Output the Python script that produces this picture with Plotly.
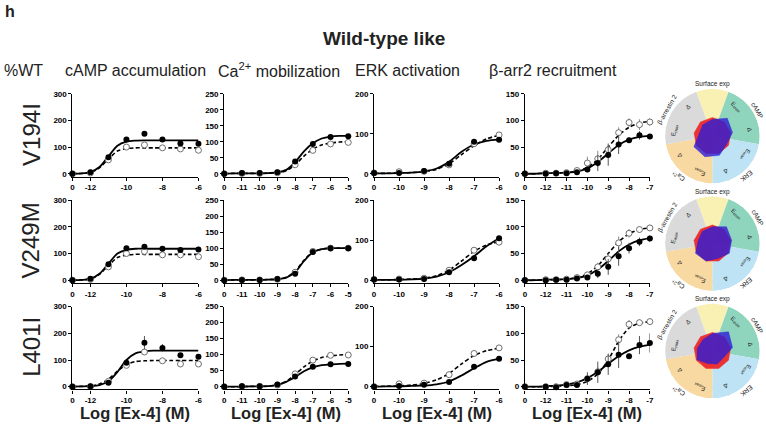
import math
import plotly.graph_objects as go

W, H = 766, 425
FONT = "Liberation Sans, Arial, sans-serif"

# ── x positions (log M). The vehicle "0" dose is drawn one decade left of the first dose
CAMP_X = [-13, -12, -11, -10, -9, -8, -7, -6]
CA_X = [-12, -11, -10, -9, -8, -7, -6, -5]
ERK_X = [-11, -10, -9, -8, -7, -6]
ARR_X = [-13, -12, -11.5, -11, -10.5, -10, -9.5, -9, -8.5, -8, -7.5, -7]

CAMP_FIT_X = [-13, -12.5, -12, -11.5, -11, -10.5, -10, -9.5, -9, -8.5, -8, -7.5, -7, -6.5, -6]
CA_FIT_X = [-12, -11.5, -11, -10.5, -10, -9.5, -9, -8.5, -8, -7.5, -7, -6.5, -6, -5.5, -5]
ERK_FIT_X = [-11, -10.5, -10, -9.5, -9, -8.5, -8, -7.5, -7, -6.5, -6]
ARR_FIT_X = [-13, -12.5, -12, -11.5, -11, -10.5, -10, -9.5, -9, -8.5, -8, -7.5, -7]

# ── tick labels
CAMP_TICKS = [-13, -12, -10, -8, -6]
CAMP_TICKTEXT = ["0", "-12", "-10", "-8", "-6"]
CA_TICKS = [-12, -11, -10, -9, -8, -7, -6, -5]
CA_TICKTEXT = ["0", "-11", "-10", "-9", "-8", "-7", "-6", "-5"]
ERK_TICKS = [-11, -10, -9, -8, -7, -6]
ERK_TICKTEXT = ["0", "-10", "-9", "-8", "-7", "-6"]
ARR_TICKS = [-13, -12, -11, -10, -9, -8, -7]
ARR_TICKTEXT = ["0", "-12", "-11", "-10", "-9", "-8", "-7"]

CAMP_YTICKS = [0, 100, 200, 300]
CA_YTICKS = [0, 50, 100, 150, 200, 250]
ERK_YTICKS = [0, 100, 200]
ARR_YTICKS = [0, 50, 100, 150]

# ── V194I (filled = mutant, open = WT), % of WT
V194I_CAMP_MUT = [0, 6, 62, 128, 150, 128, 113, 112]
V194I_CAMP_WT = [0, 3, 52, 100, 108, 97, 93, 88]
V194I_CAMP_MUT_FIT = [0, 1, 6, 25, 65, 105, 120, 124, 125, 125, 125, 125, 125, 125, 125]
V194I_CAMP_WT_FIT = [0, 1, 5, 22, 55, 85, 94, 97, 97, 97, 97, 97, 97, 97, 97]
V194I_CA_MUT = [0, 2, 2, 5, 38, 93, 115, 117]
V194I_CA_WT = [0, 1, 1, 3, 28, 73, 93, 98]
V194I_CA_MUT_FIT = [0, 1, 1, 1, 1, 2, 4, 12, 36, 70, 95, 110, 116, 118, 118]
V194I_CA_WT_FIT = [0, 1, 1, 1, 1, 2, 3, 9, 28, 55, 77, 90, 96, 99, 100]
V194I_ERK_MUT = [2, 2, 7, 25, 80, 85]
V194I_ERK_WT = [2, 5, 6, 22, 75, 97]
V194I_ERK_MUT_FIT = [1, 1, 2, 3, 6, 13, 30, 55, 73, 82, 86]
V194I_ERK_WT_FIT = [1, 1, 2, 3, 5, 11, 25, 48, 70, 87, 96]
V194I_ARR_MUT = [0, 0, 1, 1, 3, 8, 20, 35, 55, 63, 72, 70]
V194I_ARR_WT = [0, 1, 1, 2, 6, 20, 28, 45, 77, 96, 92, 97]
V194I_ARR_MUT_FIT = [0, 0, 1, 1, 2, 4, 10, 22, 38, 54, 64, 69, 71]
V194I_ARR_WT_FIT = [0, 0, 1, 1, 2, 5, 12, 27, 50, 72, 87, 95, 98]
V194I_ARR_MUT_ERR = [0, 1, 1, 1, 3, 5, 15, 20, 18, 5, 8, 4]
V194I_ARR_WT_ERR = [0, 1, 1, 2, 4, 12, 15, 12, 10, 8, 10, 8]

# ── V249M
V249M_CAMP_MUT = [0, 5, 60, 120, 125, 118, 113, 115]
V249M_CAMP_WT = [0, 3, 50, 100, 108, 95, 95, 88]
V249M_CAMP_MUT_FIT = [0, 1, 5, 24, 62, 100, 114, 118, 118, 118, 118, 118, 118, 118, 118]
V249M_CAMP_WT_FIT = [0, 1, 5, 22, 55, 85, 94, 97, 97, 97, 97, 97, 97, 97, 97]
V249M_CA_MUT = [0, 1, 1, 4, 20, 88, 100, 100]
V249M_CA_WT = [0, 1, 1, 3, 25, 90, 100, 100]
V249M_CA_MUT_FIT = [0, 1, 1, 1, 1, 2, 3, 8, 25, 60, 87, 97, 100, 100, 100]
V249M_CA_WT_FIT = [0, 1, 1, 1, 1, 2, 3, 9, 28, 62, 88, 97, 100, 100, 100]
V249M_ERK_MUT = [2, 2, 3, 20, 55, 105]
V249M_ERK_WT = [2, 3, 5, 25, 75, 95]
V249M_ERK_MUT_FIT = [1, 1, 1, 2, 4, 9, 20, 38, 60, 85, 105]
V249M_ERK_WT_FIT = [1, 1, 2, 3, 5, 11, 25, 48, 72, 88, 96]
V249M_ARR_MUT = [0, 0, 1, 1, 3, 5, 12, 25, 45, 60, 72, 78]
V249M_ARR_WT = [0, 1, 1, 2, 5, 10, 25, 40, 70, 88, 95, 98]
V249M_ARR_MUT_FIT = [0, 0, 1, 1, 2, 4, 9, 20, 36, 54, 67, 75, 79]
V249M_ARR_WT_FIT = [0, 0, 1, 1, 2, 5, 12, 27, 50, 72, 87, 95, 98]
V249M_ARR_MUT_ERR = [0, 1, 1, 1, 2, 4, 8, 15, 18, 10, 8, 6]
V249M_ARR_WT_ERR = [0, 1, 1, 2, 3, 6, 8, 10, 12, 8, 6, 6]

# ── L401I
L401I_CAMP_MUT = [0, 2, 15, 90, 165, 145, 118, 112]
L401I_CAMP_WT = [0, 0, 20, 80, 130, 97, 85, 85]
L401I_CAMP_MUT_FIT = [0, 1, 2, 6, 20, 55, 100, 125, 132, 135, 135, 135, 135, 135, 135]
L401I_CAMP_WT_FIT = [0, 1, 3, 10, 28, 58, 83, 94, 97, 98, 98, 98, 98, 98, 98]
L401I_CAMP_MUT_ERR = [0, 2, 4, 8, 25, 15, 8, 10]
L401I_CA_MUT = [0, 1, 1, 7, 32, 62, 70, 71]
L401I_CA_WT = [0, 1, 1, 5, 40, 83, 98, 99]
L401I_CA_MUT_FIT = [0, 0, 0, 1, 1, 2, 6, 15, 30, 48, 60, 67, 70, 71, 72]
L401I_CA_WT_FIT = [0, 0, 0, 1, 1, 2, 6, 17, 38, 62, 80, 91, 96, 99, 100]
L401I_ERK_MUT = [0, 2, 5, 12, 50, 70]
L401I_ERK_WT = [0, 7, 9, 30, 83, 97]
L401I_ERK_MUT_FIT = [0, 1, 1, 2, 3, 6, 13, 28, 46, 62, 70]
L401I_ERK_WT_FIT = [1, 1, 2, 4, 8, 17, 33, 57, 78, 90, 96]
L401I_ARR_MUT = [0, 0, -1, 3, 3, 15, 27, 42, 60, 57, 78, 82]
L401I_ARR_WT = [0, 0, 0, 4, 5, 15, 28, 52, 88, 117, 120, 122]
L401I_ARR_MUT_FIT = [0, 0, 1, 2, 4, 8, 16, 28, 43, 57, 68, 75, 79]
L401I_ARR_WT_FIT = [0, 0, 0, 1, 2, 4, 10, 24, 50, 85, 110, 119, 122]
L401I_ARR_MUT_ERR = [0, 1, 1, 2, 3, 12, 20, 20, 25, 5, 17, 18]
L401I_ARR_WT_ERR = [0, 1, 1, 2, 3, 5, 8, 8, 10, 8, 6, 6]

# ── radar (%WT)
RADAR_THETA = [0, 40, 80, 120, 160, 200, 240, 280, 320]
RADAR_LABELS = ["", "E<sub>max</sub>", "Δ", "E<sub>max</sub>", "Δ", "E<sub>max</sub>", "Δ", "E<sub>max</sub>", "Δ"]
RADAR_WT = [100, 100, 100, 100, 100, 100, 100, 100, 100]
V194I_RADAR = [90, 125, 110, 88, 110, 118, 115, 72, 80]
V249M_RADAR = [90, 118, 105, 105, 85, 100, 105, 78, 85]
L401I_RADAR = [95, 135, 110, 70, 75, 72, 95, 82, 80]
SECTOR_NAMES = ["Surface exp", "cAMP", "ERK", "Ca<sup>2+</sup>", "β-arrestin 2"]
SECTOR_THETA = [0, 60, 140, 220, 300]
SECTOR_WIDTH = [40, 80, 80, 80, 80]
SECTOR_COLORS = ["#f9f1b4", "#8fd5bd", "#bde3f4", "#f8d9a1", "#dadada"]

ROWS = ["V194I", "V249M", "L401I"]
COL_TITLES = ["cAMP accumulation", "Ca<sup>2+</sup> mobilization", "ERK activation", "β-arr2 recruitment"]

# ── layout geometry (pixels)
COL_PX = [(71, 198), (224, 349), (375, 501), (527, 653)]
ROW_TOP_PX = [91, 199, 307]
PLOT_H_PX = 84
RADAR_C = [(716, 134), (716, 243), (716, 352)]
RADAR_R = 48
RADAR_MAX = 255

assays = [
    ("CAMP", CAMP_X, CAMP_FIT_X, CAMP_TICKS, CAMP_TICKTEXT, CAMP_YTICKS),
    ("CA", CA_X, CA_FIT_X, CA_TICKS, CA_TICKTEXT, CA_YTICKS),
    ("ERK", ERK_X, ERK_FIT_X, ERK_TICKS, ERK_TICKTEXT, ERK_YTICKS),
    ("ARR", ARR_X, ARR_FIT_X, ARR_TICKS, ARR_TICKTEXT, ARR_YTICKS),
]


def text(x_px, y_px, s, size, angle=0, xanchor="center", color="#222222"):
    return dict(x=x_px / W, y=1 - y_px / H, xref="paper", yref="paper", text=s, showarrow=False,
                textangle=angle, xanchor=xanchor, yanchor="middle", borderpad=0,
                font=dict(family=FONT, size=size, color=color))


g = globals()
fig = go.Figure()
layout = {}
annotations = []

for r, row in enumerate(ROWS):
    top = ROW_TOP_PX[r]
    bot = top + PLOT_H_PX
    for c, (key, xs, fxs, tv, tt, ytv) in enumerate(assays):
        n = r * 4 + c + 1
        xa = "x" if n == 1 else f"x{n}"
        ya = "y" if n == 1 else f"y{n}"
        mut = g[f"{row}_{key}_MUT"]
        wt = g[f"{row}_{key}_WT"]
        mut_err = g.get(f"{row}_{key}_MUT_ERR", [2] * len(xs))
        wt_err = g.get(f"{row}_{key}_WT_ERR", [2] * len(xs))
        # fitted curves
        fig.add_trace(go.Scatter(x=fxs, y=g[f"{row}_{key}_WT_FIT"], mode="lines", xaxis=xa, yaxis=ya,
                                 line=dict(color="black", width=1.6, dash="4px,2.5px", shape="spline", smoothing=0.8),
                                 showlegend=False, hoverinfo="skip"))
        fig.add_trace(go.Scatter(x=fxs, y=g[f"{row}_{key}_MUT_FIT"], mode="lines", xaxis=xa, yaxis=ya,
                                 line=dict(color="black", width=1.8, shape="spline", smoothing=0.8),
                                 showlegend=False, hoverinfo="skip"))
        # data points
        fig.add_trace(go.Scatter(x=xs, y=wt, mode="markers", xaxis=xa, yaxis=ya, cliponaxis=False,
                                 error_y=dict(type="data", array=wt_err, color="#8a8a8a", thickness=1, width=0),
                                 marker=dict(symbol="circle", size=6, color="white",
                                             line=dict(color="#707070", width=1)),
                                 showlegend=False))
        fig.add_trace(go.Scatter(x=xs, y=mut, mode="markers", xaxis=xa, yaxis=ya, cliponaxis=False,
                                 error_y=dict(type="data", array=mut_err, color="#555555", thickness=1, width=0),
                                 marker=dict(symbol="circle", size=6, color="black"),
                                 showlegend=False))
        x0, x1 = COL_PX[c]
        ymax = ytv[-1]
        layout["xaxis" if n == 1 else f"xaxis{n}"] = dict(
            domain=[x0 / W, x1 / W], anchor=ya, range=[fxs[0], fxs[-1]],
            tickvals=tv, ticktext=tt, ticks="outside", ticklen=3, tickwidth=1, tickcolor="black",
            showline=True, linecolor="black", linewidth=1.2, showgrid=False, zeroline=False,
            tickfont=dict(family=FONT, size=8, color="black", weight="bold"))
        layout["yaxis" if n == 1 else f"yaxis{n}"] = dict(
            domain=[1 - bot / H, 1 - top / H], anchor=xa, range=[-0.035 * ymax, ymax],
            tickvals=ytv, ticks="outside", ticklen=3, tickwidth=1, tickcolor="black",
            showline=True, linecolor="black", linewidth=1.2, showgrid=False, zeroline=False,
            tickfont=dict(family=FONT, size=8, color="black", weight="bold"))

    # radar plot
    cx, cy = RADAR_C[r]
    pk = "polar" if r == 0 else f"polar{r + 1}"
    fig.add_trace(go.Barpolar(r=[RADAR_MAX] * len(SECTOR_THETA), theta=SECTOR_THETA, width=SECTOR_WIDTH,
                              marker=dict(color=SECTOR_COLORS, line=dict(width=0)),
                              subplot=pk, showlegend=False, hoverinfo="skip"))
    fig.add_trace(go.Scatterpolar(r=RADAR_WT + RADAR_WT[:1], theta=RADAR_THETA + RADAR_THETA[:1],
                                  fill="toself", fillcolor="rgba(236,40,42,0.95)", mode="lines",
                                  line=dict(color="rgba(236,40,42,0.95)", width=0.5),
                                  subplot=pk, showlegend=False))
    vals = g[f"{row}_RADAR"]
    fig.add_trace(go.Scatterpolar(r=vals + vals[:1], theta=RADAR_THETA + RADAR_THETA[:1],
                                  fill="toself", fillcolor="rgba(45,30,215,0.8)", mode="lines",
                                  line=dict(color="rgba(45,30,215,0.85)", width=0.5),
                                  subplot=pk, showlegend=False))
    layout[pk] = dict(
        domain=dict(x=[(cx - RADAR_R) / W, (cx + RADAR_R) / W], y=[1 - (cy + RADAR_R) / H, 1 - (cy - RADAR_R) / H]),
        bgcolor="rgba(0,0,0,0)", bargap=0,
        radialaxis=dict(range=[0, RADAR_MAX], tickvals=[50, 100, 150, 200], showticklabels=False, ticks="",
                        showline=False, gridcolor="#c4c4c4", griddash="dot", gridwidth=0.7, layer="above traces"),
        angularaxis=dict(rotation=90, direction="clockwise", tickvals=RADAR_THETA, showticklabels=False,
                         ticks="", showline=False, gridcolor="#c8c8c8", gridwidth=0.7, layer="above traces"),
    )

    def pos(rad, ang):
        a = math.radians(ang)
        return cx + rad * math.sin(a), cy - rad * math.cos(a)

    for ang, lab in zip(RADAR_THETA, RADAR_LABELS):
        if not lab:
            continue
        px, py = pos(RADAR_R * 0.8, ang)
        annotations.append(text(px, py, lab, 6, angle=ang if ang <= 180 else ang - 360))
    for ang, lab in zip(SECTOR_THETA, SECTOR_NAMES):
        px, py = pos(RADAR_R * 1.1, ang)
        annotations.append(text(px, py, lab, 6.5, angle=ang if ang <= 180 else ang - 360))

    # row label
    annotations.append(text(29, top + PLOT_H_PX / 2 - 1, row, 24, angle=-90))

# column headers and titles
annotations.append(text(2, 8, "<b>h</b>", 16, xanchor="left"))
annotations.append(text(385, 35, "<b>Wild-type like</b>", 19))
annotations.append(text(1, 67, "%WT", 16, xanchor="left"))
for x_px, t in zip([62, 217, 355, 490], COL_TITLES):
    annotations.append(text(x_px, 67, t, 16, xanchor="left"))
for x0, x1 in COL_PX:
    annotations.append(text((x0 + x1) / 2, 415, "<b>Log [Ex-4] (M)</b>", 16.5))

fig.update_layout(width=W, height=H, margin=dict(l=0, r=0, t=0, b=0),
                  paper_bgcolor="white", plot_bgcolor="white", annotations=annotations, **layout)
fig.write_html("out.html", config={"displayModeBar": False},
               post_script="document.body.style.margin='0px';")
